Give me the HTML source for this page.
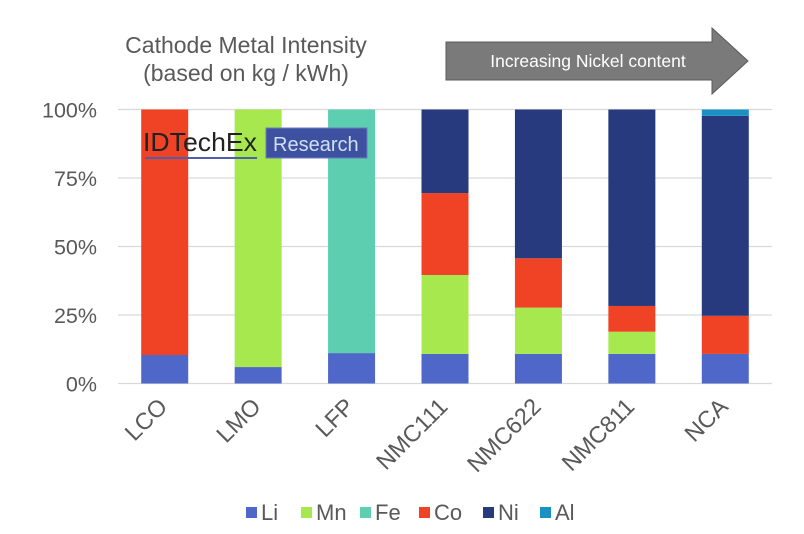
<!DOCTYPE html>
<html><head><meta charset="utf-8"><style>
body{margin:0;background:#fff;}
svg{display:block;font-family:"Liberation Sans",Arial,sans-serif;}
</style></head><body>
<svg width="804" height="534" viewBox="0 0 804 534">
<text x="246" y="53" text-anchor="middle" font-size="23" fill="#595959">Cathode Metal Intensity</text>
<text x="246" y="81" text-anchor="middle" font-size="23" fill="#595959">(based on kg / kWh)</text>
<g>
<polygon points="446,42 712,42 712,28 748,61 712,94 712,80 446,80" fill="#7a7a7a" stroke="#5a5a5a" stroke-width="1"/>
<text x="588" y="67" text-anchor="middle" font-size="17.5" fill="#fff">Increasing Nickel content</text>
</g>
<g id="grid"></g>
<g id="bars"></g>
<g id="xlabels"></g>
<g id="ylabels"></g>
<g>
<text x="143" y="151" font-size="26" fill="#222" textLength="114" lengthAdjust="spacingAndGlyphs">IDTechEx</text>
<rect x="145" y="157" width="112" height="2" fill="#4f5fb0"/>
<rect x="266" y="128" width="101" height="30" fill="#3e51a0" stroke="#6a7ac0"/>
<text x="273" y="151" font-size="20" fill="#cfe0f0">Research</text>
</g>
<g id="legend"></g>
</svg>
<script>
const categories=["LCO","LMO","LFP","NMC111","NMC622","NMC811","NCA"];
const seriesNames=["Li","Mn","Fe","Co","Ni","Al"];
const Li=[10.4,6,11.1,10.8,10.8,10.8,10.8];
const Mn=[0,94,0,28.8,16.9,8.1,0];
const Fe=[0,0,88.9,0,0,0,0];
const Co=[89.6,0,0,29.9,18.0,9.4,13.9];
const Ni=[0,0,0,30.5,54.3,71.7,73.0];
const Al=[0,0,0,0,0,0,2.3];
const yTicks=[0,25,50,75,100];
const yTickLabels=["0%","25%","50%","75%","100%"];
const colors=["#4f67c8","#a8e84f","#5dcfb0","#f04224","#263a7d","#1991c2"];
const series=[Li,Mn,Fe,Co,Ni,Al];
const NS="http://www.w3.org/2000/svg";
const x0=118,x1=772,y0=383.5,y1=109.5;
const step=(x1-x0)/categories.length,bw=47;
function yS(v){return y0-(y0-y1)*v/100;}
function xC(i){return x0+step*(i+0.5);}
function mk(t,a,p){const e=document.createElementNS(NS,t);for(const k in a)e.setAttribute(k,a[k]);p.appendChild(e);return e;}
const g=document.getElementById('grid');
yTicks.forEach((t,i)=>{
 const l=mk('line',{x1:x0,x2:x1,y1:yS(t),y2:yS(t),stroke:'#d9d9d9','stroke-width':1.3},g);
 
 
 const tx=mk('text',{x:97,y:yS(t)+8,'text-anchor':'end','font-size':21.5,fill:'#595959'},document.getElementById('ylabels'));
 tx.textContent=yTickLabels[i];
 
 
});
const bg=document.getElementById('bars');
categories.forEach((c,i)=>{
 let acc=0;
 series.forEach((s,j)=>{
  const v=s[i]; if(!v)return;
  const r=mk('rect',{x:xC(i)-bw/2,y:yS(acc+v),width:bw,height:yS(acc)-yS(acc+v),fill:colors[j]},bg);
  
  
  acc+=v;
 });
 const ax=xC(i)+4, ay=408;
 const t=mk('text',{x:ax,y:ay,'text-anchor':'end','font-size':23.5,fill:'#595959',transform:`rotate(-45 ${ax} ${ay})`},document.getElementById('xlabels'));
 t.textContent=c;
 
 
});
const lg=document.getElementById('legend');
const lx=[246,301,360,419,483,540];
seriesNames.forEach((n,j)=>{
 const e=mk('g',{},lg);
 
 
 mk('rect',{x:lx[j],y:507,width:11,height:11,fill:colors[j]},e);
 const t=mk('text',{x:lx[j]+15,y:520,'font-size':22,fill:'#595959'},e);
 t.textContent=n;
});
</script>
</body></html>
